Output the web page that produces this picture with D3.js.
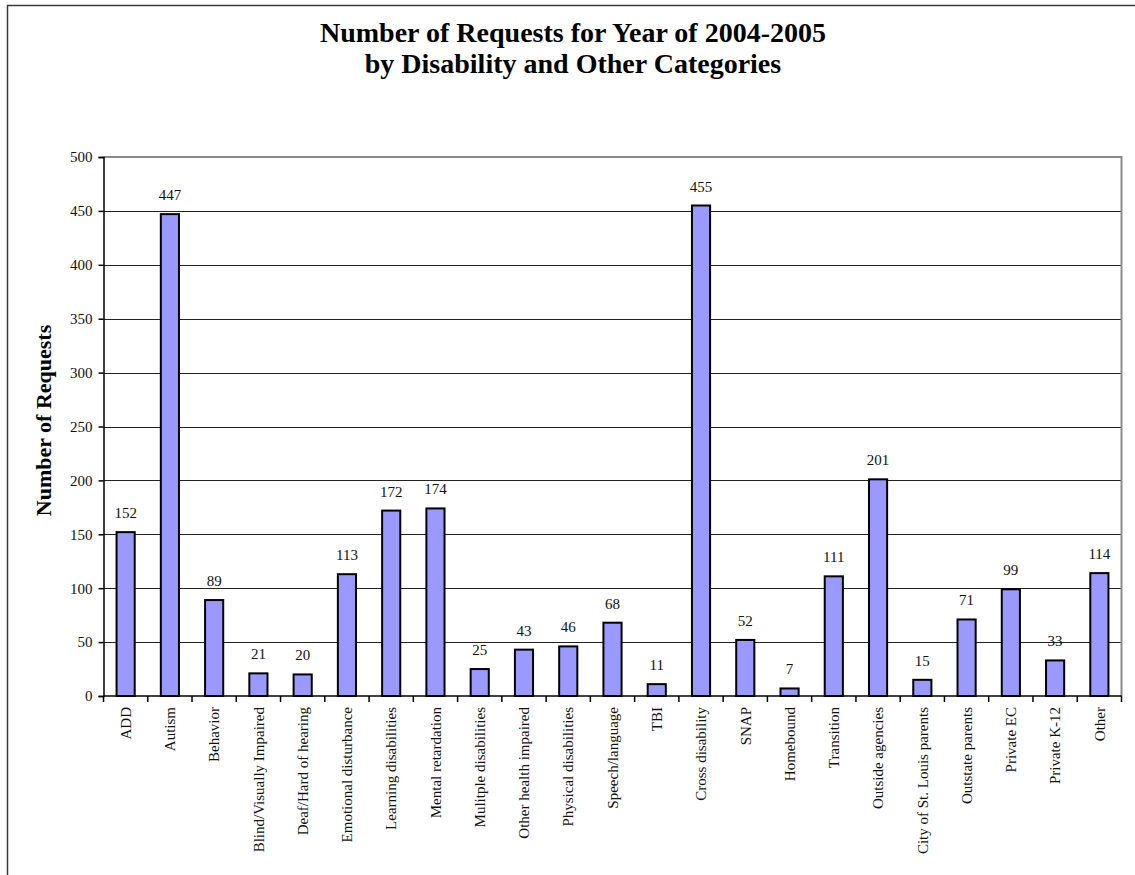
<!DOCTYPE html>
<html>
<head>
<meta charset="utf-8">
<script src="https://cdn.jsdelivr.net/npm/d3@7"></script>
<style>
  body { margin: 0; background: #fff; }
  svg { display: block; }
  svg text { font-family: "Liberation Serif", "Times New Roman", Times, serif !important; }
</style>
</head>
<body>
<div id="chart"></div>
<script>
var categories = ["ADD", "Autism", "Behavior", "Blind/Visually Impaired", "Deaf/Hard of hearing",
    "Emotional disturbance", "Learning disabilities", "Mental retardation", "Mulitple disabilities",
    "Other health impaired", "Physical disabilities", "Speech/language", "TBI", "Cross disability",
    "SNAP", "Homebound", "Transition", "Outside agencies", "City of St. Louis parents",
    "Outstate parents", "Private EC", "Private K-12", "Other"];
var requests = [152, 447, 89, 21, 20, 113, 172, 174, 25, 43, 46, 68, 11, 455, 52, 7, 111, 201, 15, 71, 99, 33, 114];
var yTicks = [0, 50, 100, 150, 200, 250, 300, 350, 400, 450, 500];
var titleLines = ["Number of Requests for Year of 2004-2005", "by Disability and Other Categories"];
var yTitle = "Number of Requests";

var serif = "Liberation Serif, Times New Roman, serif";
var W = 1135, H = 875;
var margin = {top: 157, right: 13.5, bottom: 179, left: 103.5},
    width = W - margin.left - margin.right,
    height = H - margin.top - margin.bottom;

var svg = d3.select("#chart")
    .append("svg")
    .attr("width", W)
    .attr("height", H)
    .attr("font-family", serif);

// outer chart frame (runs off the right and bottom edges)
svg.append("rect")
    .attr("x", 7.5)
    .attr("y", 5.5)
    .attr("width", 1300)
    .attr("height", 1000)
    .style("fill", "none")
    .style("stroke", "#3a3a3a")
    .style("stroke-width", 1.5);

// title
svg.append("text")
    .attr("text-anchor", "middle")
    .style("font-size", "28px")
    .style("font-weight", "bold")
    .selectAll("tspan")
    .data(titleLines)
    .enter()
    .append("tspan")
    .attr("x", 573)
    .attr("y", function(d, i) { return 42 + i * 31; })
    .text(function(d) { return d; });

var g = svg.append("g")
    .attr("transform", "translate(" + margin.left + "," + margin.top + ")");

var x = d3.scaleBand()
    .range([0, width])
    .domain(categories)
    .paddingInner(0.59)
    .paddingOuter(0.295);

var y = d3.scaleLinear()
    .range([height, 0])
    .domain([0, 500]);

// gridlines
g.selectAll(".grid")
    .data(yTicks.filter(function(d) { return d > 0 && d < 500; }))
    .enter()
    .append("line")
    .attr("x1", 0)
    .attr("x2", width)
    .attr("y1", function(d) { return Math.round(y(d)) + 0.5; })
    .attr("y2", function(d) { return Math.round(y(d)) + 0.5; })
    .style("stroke", "#222")
    .style("stroke-width", 1);

// plot area border, top and right in gray
g.append("path")
    .attr("d", "M0," + y(500) + "H" + width + "V" + height)
    .style("fill", "none")
    .style("stroke", "#8a8a8a")
    .style("stroke-width", 2);

// bars
g.selectAll(".bar")
    .data(requests)
    .enter()
    .append("rect")
    .attr("x", function(d, i) { return x(categories[i]); })
    .attr("y", function(d) { return y(d); })
    .attr("width", x.bandwidth())
    .attr("height", function(d) { return height - y(d); })
    .style("fill", "#9999ff")
    .style("stroke", "black")
    .style("stroke-width", 2);

// value labels
g.selectAll(".val")
    .data(requests)
    .enter()
    .append("text")
    .attr("x", function(d, i) { return x(categories[i]) + x.bandwidth() / 2; })
    .attr("y", function(d) { return y(d) - 14; })
    .attr("text-anchor", "middle")
    .style("font-size", "15px")
    .style("fill", "#111")
    .text(function(d) { return d; });

// y axis
var yAxis = g.append("g")
    .call(d3.axisLeft(y).tickValues(yTicks).tickSize(5).tickPadding(6));
yAxis.attr("font-family", serif).attr("font-size", 15);
yAxis.select(".domain").style("stroke", "black").style("stroke-width", 1.5);
yAxis.selectAll(".tick line").style("stroke", "black").style("stroke-width", 1.5);
yAxis.selectAll("text")
    .style("font-size", "15px")
    .style("fill", "#111");

// x axis: ticks sit between categories
var step = x.step();
var xAxis = g.append("g")
    .attr("transform", "translate(0," + height + ")");
xAxis.append("line")
    .attr("x1", 0)
    .attr("x2", width)
    .style("stroke", "black")
    .style("stroke-width", 1.5);
xAxis.selectAll(".xtick")
    .data(d3.range(categories.length + 1))
    .enter()
    .append("line")
    .attr("x1", function(d) { return d * step; })
    .attr("x2", function(d) { return d * step; })
    .attr("y1", 0)
    .attr("y2", 6)
    .style("stroke", "black")
    .style("stroke-width", 1.5);
xAxis.selectAll(".xlab")
    .data(categories)
    .enter()
    .append("text")
    .attr("transform", function(d) {
        return "translate(" + (x(d) + x.bandwidth() / 2) + ",11) rotate(-90)";
    })
    .attr("dy", "0.35em")
    .attr("text-anchor", "end")
    .style("font-size", "15px")
    .style("fill", "#111")
    .text(function(d) { return d; });

// y axis title
svg.append("text")
    .attr("transform", "translate(51," + (margin.top + height / 2 - 6) + ") rotate(-90)")
    .attr("text-anchor", "middle")
    .style("font-size", "22px")
    .style("font-weight", "bold")
    .text(yTitle);
</script>
</body>
</html>
